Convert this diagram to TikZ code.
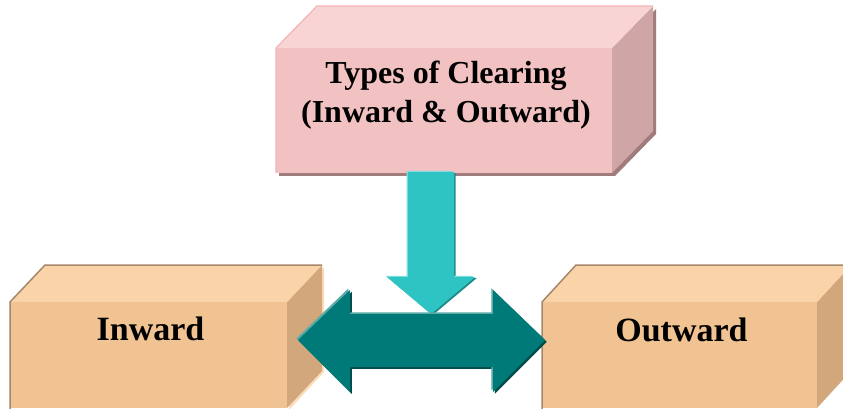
\documentclass[tikz,border=0pt]{standalone}
\usepackage{fontspec}
\setmainfont{Liberation Serif}
\definecolor{pinkfront}{HTML}{F2C2C2}
\definecolor{pinktop}{HTML}{F9D4D4}
\definecolor{pinkside}{HTML}{D0A5A5}
\definecolor{pinkedge}{HTML}{F4B4B4}
\definecolor{pinkshadow}{HTML}{A07C7C}
\definecolor{tanfront}{HTML}{F2C392}
\definecolor{tantop}{HTML}{FAD3A8}
\definecolor{tanside}{HTML}{D2A77B}
\definecolor{tanedge}{HTML}{A5876A}
\definecolor{tanlight}{HTML}{FCDDBB}
\definecolor{cyanfill}{HTML}{2EC4C4}
\definecolor{cyanlight}{HTML}{80DCDC}
\definecolor{cyandark}{HTML}{1F8A8A}
\definecolor{tealfill}{HTML}{007A78}
\definecolor{teallight}{HTML}{5AAAA8}
\definecolor{tealdark}{HTML}{004C4A}
\tikzset{
  label text/.style={font=\bfseries, text=black, inner sep=0pt},
}
% a 3-D box: front face (#1,#2)-(#3,#4), depth (#5,#6), colours prefix #7
\newcommand{\drawslab}[7]{%
  \fill[#7side] (#3,#2) -- ++(#5,#6) -- ([shift={(#5,#6)}]#3,#4) -- (#3,#4) -- cycle;
  \fill[#7top] (#1,#2) -- ++(#5,#6) -- ([shift={(#5,#6)}]#3,#2) -- (#3,#2) -- cycle;
  \fill[#7front] (#1,#2) rectangle (#3,#4);
}
\begin{document}
\begin{tikzpicture}[x=1pt,y=-1pt]
\useasboundingbox (0,0) rectangle (843,408);
\fill[white] (0,0) rectangle (843,408);
\clip (0,0) rectangle (843,408);

% title box
\fill[pinkshadow] (279,51) rectangle (615,176);
\fill[pinkshadow] (615,51) -- (656,9) -- (656,134) -- (615,176) -- cycle;
\drawslab{276}{48}{612}{173}{41}{-42}{pink}
\draw[pinkedge, line width=1.2pt] (276,173) -- (276,48) -- (317,6) -- (653,6);
\node[label text, font=\bfseries\fontsize{32}{39}\selectfont, align=center, anchor=base]
  (title) at (446,122) {Types of Clearing\\(Inward \& Outward)};

% inward box
\fill[tanlight] (289,304) -- (324,267) -- (324,372) -- (289,410) -- cycle;
\drawslab{10}{302}{287}{408}{35}{-37}{tan}
\draw[tanedge, line width=1.5pt] (10,410) -- (10,302) -- (45,265) -- (322,265);
\node[label text, font=\bfseries\fontsize{34}{40}\selectfont, anchor=base]
  (inward) at (150.5,340) {Inward};

% outward box
\drawslab{542}{302}{817}{408}{34}{-37}{tan}
\draw[tanedge, line width=1.5pt] (542,410) -- (542,302) -- (576,265) -- (860,265);
\node[label text, font=\bfseries\fontsize{34}{40}\selectfont, anchor=base]
  (outward) at (681.5,341) {Outward};

% downward block arrow
\begin{scope}[shift={(1.6,1.2)}]
  \fill[cyandark] (408,172) -- (454,172) -- (454,277) -- (475,277) -- (431,314) -- (387,277) -- (408,277) -- cycle;
\end{scope}
\begin{scope}[shift={(-1.4,-1.2)}]
  \fill[cyanlight] (408,172) -- (454,172) -- (454,277) -- (475,277) -- (431,314) -- (387,277) -- (408,277) -- cycle;
\end{scope}
\fill[cyanfill] (408,172) -- (454,172) -- (454,277) -- (475,277) -- (431,314) -- (387,277) -- (408,277) -- cycle;

% double-headed block arrow
\begin{scope}[shift={(1.8,1.8)}]
  \fill[tealdark] (298,340) -- (350,290) -- (350,314) -- (493,314) -- (493,290) -- (545,340) -- (493,392) -- (493,367) -- (350,367) -- (350,392) -- cycle;
\end{scope}
\begin{scope}[shift={(-1.6,-1.6)}]
  \fill[teallight] (298,340) -- (350,290) -- (350,314) -- (493,314) -- (493,290) -- (545,340) -- (493,392) -- (493,367) -- (350,367) -- (350,392) -- cycle;
\end{scope}
\fill[tealfill] (298,340) -- (350,290) -- (350,314) -- (493,314) -- (493,290) -- (545,340) -- (493,392) -- (493,367) -- (350,367) -- (350,392) -- cycle;
\end{tikzpicture}
\end{document}
